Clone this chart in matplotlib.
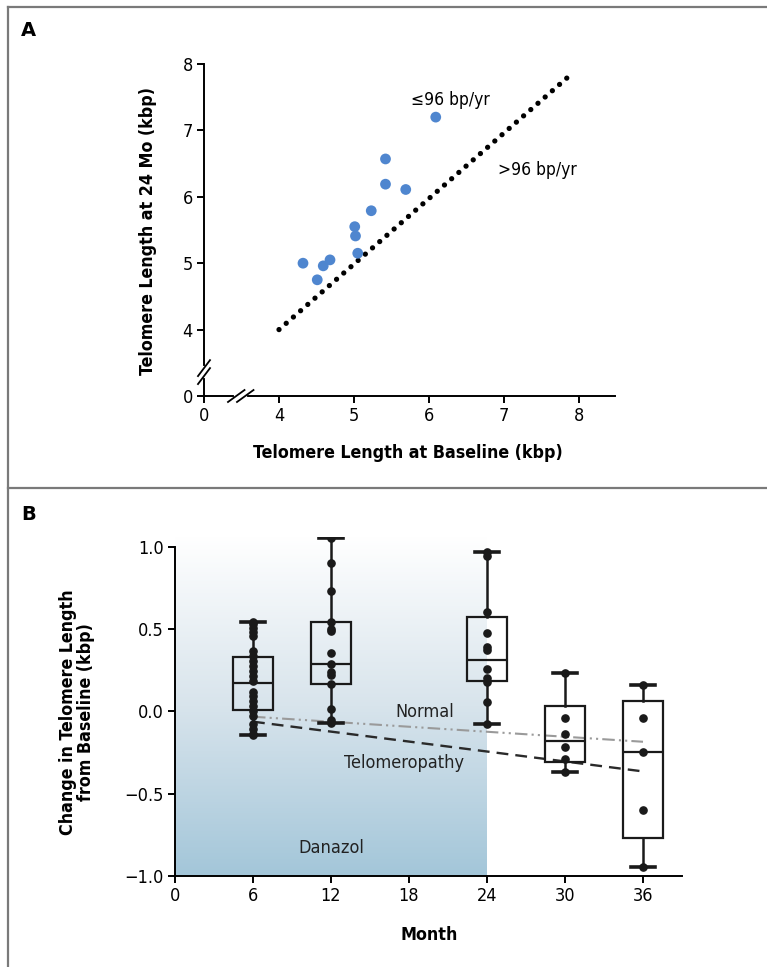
import matplotlib
matplotlib.use("Agg")
import matplotlib.pyplot as plt
import numpy as np
from matplotlib.lines import Line2D
from matplotlib.colors import LinearSegmentedColormap

plt.rcParams['font.family'] = ['DejaVu Sans']

# ---------------- Panel A data ----------------
baseline_kbp = [6.09, 5.42, 5.42, 5.69, 5.23, 5.01, 5.02, 5.05, 4.32, 4.59, 4.68, 4.51]
month24_kbp = [7.20, 6.57, 6.19, 6.11, 5.79, 5.55, 5.41, 5.15, 5.00, 4.96, 5.05, 4.75]
ref_line_x = [4.0, 7.87]
ref_line_y = [4.0, 7.82]
a_ticks_pos = [3, 4, 5, 6, 7, 8]
a_tick_labels = ['0', '4', '5', '6', '7', '8']

# ---------------- Panel B data ----------------
months = [6, 12, 24, 30, 36]
whis_hi = [0.54, 1.05, 0.97, 0.23, 0.16]
q3 = [0.33, 0.54, 0.57, 0.03, 0.06]
medians = [0.17, 0.29, 0.31, -0.18, -0.245]
q1 = [0.01, 0.165, 0.185, -0.31, -0.77]
whis_lo = [-0.145, -0.07, -0.075, -0.37, -0.945]

pts_m6 = [0.54, 0.53, 0.506, 0.48, 0.46, 0.368, 0.338, 0.307, 0.277, 0.247,
          0.216, 0.186, 0.115, 0.091, 0.064, 0.034, 0.004, -0.027, -0.077,
          -0.107, -0.138, -0.145]
pts_m12 = [1.05, 0.90, 0.73, 0.54, 0.50, 0.49, 0.356, 0.29, 0.24, 0.22,
           0.166, 0.014, -0.05, -0.07]
pts_m24 = [0.97, 0.94, 0.60, 0.477, 0.392, 0.372, 0.255, 0.20, 0.176, 0.058, -0.075]
pts_m30 = [0.23, -0.039, -0.136, -0.219, -0.29, -0.37]
pts_m36 = [0.16, -0.039, -0.245, -0.60, -0.945]
points_by_month = [pts_m6, pts_m12, pts_m24, pts_m30, pts_m36]

normal_x = [6, 36]
normal_y = [-0.033, -0.185]
telo_x = [6, 36]
telo_y = [-0.063, -0.365]
danazol_end = 24
b_xticks = [0, 6, 12, 18, 24, 30, 36]
b_yticks = [-1.0, -0.5, 0.0, 0.5, 1.0]
b_ytick_labels = ['\u22121.0', '\u22120.5', '0.0', '0.5', '1.0']

W, H = 767, 967
fig = plt.figure(figsize=(W / 100, H / 100), dpi=100)

def fx(px):
    return px / W

def fy(py):
    return 1 - py / H

TICK_FONT = dict(family='DejaVu Sans', stretch='condensed', size=13)
LABEL_KW = dict(fontsize=12.8, fontweight='bold', stretch='condensed', ha='center', va='center')

# panel frames
frame_col = '#7a7a7a'
fig.add_artist(Line2D([fx(8), fx(8)], [fy(7), fy(967)], color=frame_col, lw=1.6))
fig.add_artist(Line2D([fx(8), 1], [fy(7), fy(7)], color=frame_col, lw=1.6))
fig.add_artist(Line2D([fx(8), 1], [fy(488), fy(488)], color=frame_col, lw=1.6))

fig.text(fx(21), fy(30), 'A', fontsize=14, fontweight='bold', va='center', ha='left')
fig.text(fx(21), fy(515), 'B', fontsize=14, fontweight='bold', va='center', ha='left')

# ---------------- Panel A ----------------
axA = fig.add_axes([fx(204), fy(396), (615 - 204) / W, (396 - 64) / H])
axA.set_xlim(3, 8.48)
axA.set_ylim(3, 8)
for s in ['top', 'right']:
    axA.spines[s].set_visible(False)
for s in ['left', 'bottom']:
    axA.spines[s].set_linewidth(1.4)
axA.spines['left'].set_bounds(3, 8)
axA.set_xticks(a_ticks_pos)
axA.set_xticklabels(a_tick_labels, fontdict=TICK_FONT)
axA.set_yticks(a_ticks_pos)
axA.set_yticklabels(a_tick_labels, fontdict=TICK_FONT)
axA.tick_params(direction='out', length=5, width=1.4, pad=3)

axA.plot(ref_line_x, ref_line_y, color='black', lw=3.8,
         linestyle=(0, (0.01, 1.8)), dash_capstyle='round', zorder=2)
axA.scatter(baseline_kbp, month24_kbp, s=60, color='#4F86CF', edgecolor='none', zorder=3)

axA.text(6.29, 7.46, '\u226496 bp/yr', fontsize=12.5, ha='center', va='center', stretch='condensed')
axA.text(7.44, 6.40, '>96 bp/yr', fontsize=12.5, ha='center', va='center', stretch='condensed')

def brk(ax, cx, cy, dx, dy, sep_x, sep_y):
    for k in (-1, 1):
        ax.plot([cx + k * sep_x - dx, cx + k * sep_x + dx],
                [cy + k * sep_y - dy, cy + k * sep_y + dy],
                color='black', lw=1.3, clip_on=False, zorder=5)

axA.plot([3, 3], [3.30, 3.42], color='white', lw=3, clip_on=False, zorder=4)
brk(axA, 3.0, 3.36, 0.08, 0.12, 0.0, 0.06)
axA.plot([3.43, 3.55], [3, 3], color='white', lw=3, clip_on=False, zorder=4)
brk(axA, 3.49, 3.0, 0.11, 0.09, 0.06, 0.0)

fig.text(fx(148), fy(231), 'Telomere Length at 24 Mo (kbp)', rotation=90, **LABEL_KW)
fig.text(fx(408), fy(453), 'Telomere Length at Baseline (kbp)', **LABEL_KW)

# ---------------- Panel B ----------------
axB = fig.add_axes([fx(175), fy(876), (682 - 175) / W, (876 - 536.7) / H])
for s in ['top', 'right']:
    axB.spines[s].set_visible(False)
for s in ['left', 'bottom']:
    axB.spines[s].set_linewidth(1.4)
axB.spines['left'].set_bounds(-1.0, 1.0)

grad = np.linspace(0, 1, 256).reshape(-1, 1)
cmap = LinearSegmentedColormap.from_list('dz', ['#A3C6D9', '#D8E4EC', '#FFFFFF'])
axB.imshow(grad, extent=(0, danazol_end, -1.0, 1.06), origin='lower', aspect='auto',
           cmap=cmap, zorder=0)
axB.set_xlim(0, 39)
axB.set_ylim(-1.0, 1.06)
axB.set_xticks(b_xticks)
axB.set_xticklabels([str(v) for v in b_xticks], fontdict=TICK_FONT)
axB.set_yticks(b_yticks)
axB.set_yticklabels(b_ytick_labels, fontdict=TICK_FONT)
axB.tick_params(direction='out', length=5, width=1.4, pad=3)

stats = []
for i in range(len(months)):
    stats.append(dict(med=medians[i], q1=q1[i], q3=q3[i], whislo=whis_lo[i],
                      whishi=whis_hi[i], fliers=[]))
axB.bxp(stats, positions=months, widths=3.1, capwidths=1.8, showfliers=False,
        patch_artist=True,
        boxprops=dict(facecolor='none', edgecolor='#1a1a1a', linewidth=1.6),
        medianprops=dict(color='#1a1a1a', linewidth=1.6),
        whiskerprops=dict(color='#1a1a1a', linewidth=1.8),
        capprops=dict(color='#1a1a1a', linewidth=2.6), manage_ticks=False, zorder=3)

for m, pts in zip(months, points_by_month):
    axB.plot([m] * len(pts), pts, 'o', color='#1a1a1a', ms=5.2, zorder=4)

axB.plot(normal_x, normal_y, color='#9a9a9a', lw=1.5, linestyle=(0, (6, 2, 1, 2, 1, 2)), zorder=2)
axB.plot(telo_x, telo_y, color='#2a2a2a', lw=1.7, linestyle=(0, (5, 3)), zorder=2)

axB.text(19.2, -0.006, 'Normal', fontsize=13, ha='center', va='center', color='#222222',
         stretch='condensed')
axB.text(17.6, -0.314, 'Telomeropathy', fontsize=13, ha='center', va='center', color='#222222',
         stretch='condensed')
axB.text(12.0, -0.83, 'Danazol', fontsize=13, ha='center', va='center', color='#222222',
         stretch='condensed')

fig.text(fx(77), fy(712), 'Change in Telomere Length\nfrom Baseline (kbp)', rotation=90,
         linespacing=1.0, **LABEL_KW)
fig.text(fx(429), fy(935), 'Month', **LABEL_KW)

fig.savefig('out.png', dpi=100)
